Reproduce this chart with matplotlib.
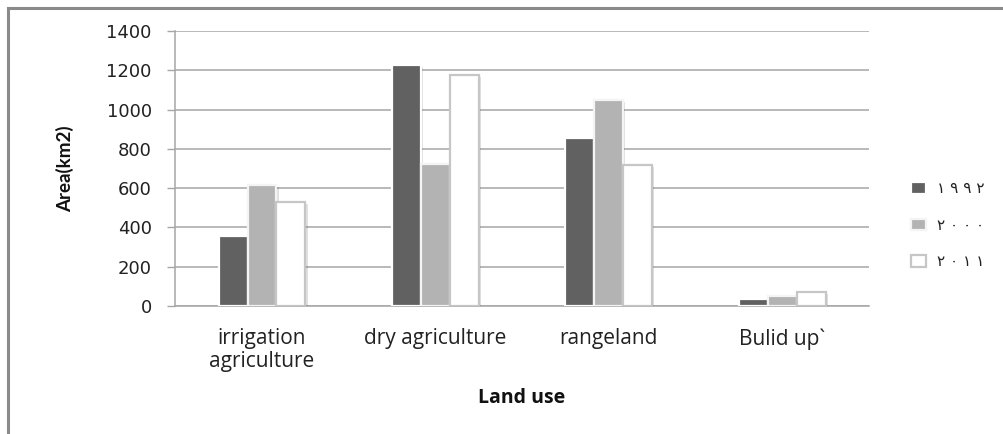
import numpy as np
import matplotlib
matplotlib.use("Agg")
import matplotlib.pyplot as plt
import matplotlib.patheffects as pe
from matplotlib.patches import Rectangle

# land use areas (km2) per year
categories = ["irrigation\nagriculture", "dry agriculture", "rangeland", "Bulid up`"]
years = ["١ ٩ ٩ ٢", "٢ ٠ ٠ ٠", "٢ ٠ ١ ١"]
area_1992 = [356, 1229, 857, 36]
area_2000 = [617, 724, 1049, 50]
area_2011 = [530, 1177, 716, 70]

fills = ["#616161", "#b3b3b3", "#ffffff"]
edges = ["#ffffff", "#f4f4f4", "#c6c6c6"]

fig = plt.figure(figsize=(10.04, 4.34), dpi=100)
ax = fig.add_axes([0.1746, 0.2949, 0.6909, 0.6337])

x = np.arange(len(categories))
w = 0.167
shadow = [pe.SimplePatchShadow(offset=(1.5, -1.5), shadow_rgbFace="#000000", alpha=0.12), pe.Normal()]
for i, vals in enumerate([area_1992, area_2000, area_2011]):
    bars = ax.bar(x + (i - 1) * w, vals, width=w, color=fills[i], edgecolor=edges[i],
                  linewidth=1.6, label=years[i], zorder=3)
    for b in bars:
        b.set_path_effects(shadow)

ax.set_xlim(-0.5, len(categories) - 0.5)
ax.set_ylim(0, 1400)
ax.set_yticks(range(0, 1401, 200))
ax.set_xticks(x)
ax.set_xticklabels(categories, fontfamily="Open Sans", fontsize=15, color="#222222",
                   linespacing=1.1)
ax.tick_params(axis="x", length=0, pad=16)
ax.tick_params(axis="y", length=6, width=1, color="#a6a6a6", pad=11, labelsize=13,
               labelcolor="#222222")
ax.grid(axis="y", color="#a6a6a6", linewidth=1.1, zorder=0)
ax.set_axisbelow(True)
for s in ["top", "right"]:
    ax.spines[s].set_visible(False)
for s in ["left", "bottom"]:
    ax.spines[s].set_color("#a6a6a6")
    ax.spines[s].set_linewidth(1.1)

fig.text(0.065, 0.612, "Area(km2)", rotation=90, ha="center", va="center",
         fontfamily="Lato", fontweight="bold", fontsize=13.5, color="#111111")
fig.text(0.5195, 0.083, "Land use", ha="center", va="center",
         fontfamily="Open Sans", fontweight="bold", fontsize=14, color="#111111")

leg = fig.legend(loc="upper left", bbox_to_anchor=(0.907, 0.582), frameon=False,
                 prop={"family": "DejaVu Sans", "size": 11}, handlelength=1.0,
                 handleheight=0.8, handletextpad=0.7, labelspacing=1.4,
                 borderpad=0, borderaxespad=0)
for h in leg.legend_handles:
    h.set_path_effects([])
for t in leg.get_texts():
    t.set_color("#222222")

# outer chart frame
fig.patches.append(Rectangle((8 / 1004, -0.1), 1.2, 1.1 - 8 / 434, transform=fig.transFigure,
                             fill=False, edgecolor="#8a8a8a", linewidth=2.2))

fig.savefig("out.png", dpi=100)
